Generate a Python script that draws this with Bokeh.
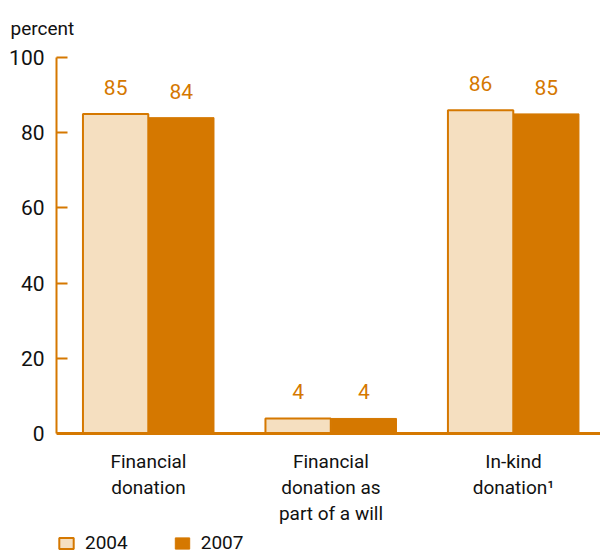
from bokeh.plotting import figure
from bokeh.models import Range1d, FixedTicker, Legend, LegendItem, ColumnDataSource, Title, Span
from bokeh.core.properties import value
from bokeh.embed import file_html
from bokeh.resources import INLINE

categories = ["Financial\ndonation", "Financial\ndonation as\npart of a will", "In-kind\ndonation\u00b9"]
series_names = ["2004", "2007"]
values_2004 = [85, 4, 86]
values_2007 = [84, 4, 85]
y_ticks = [0, 20, 40, 60, 80, 100]

ORANGE = "#D57800"
LIGHT = "#F5DFC0"
FONT = "Roboto"

p = figure(width=600, height=554, output_backend="svg", toolbar_location=None,
           x_range=Range1d(-0.504, 2.477), y_range=Range1d(-32.18, 100),
           min_border_left=56, min_border_right=0, min_border_top=57, min_border_bottom=0)
p.outline_line_color = None
p.grid.grid_line_color = None
p.xaxis.visible = False

xs = list(range(len(categories)))
dx = 0.18
bw = 0.358
src04 = ColumnDataSource(dict(x=[x - dx for x in xs], top=values_2004, lab=[str(v) for v in values_2004]))
src07 = ColumnDataSource(dict(x=[x + dx for x in xs], top=values_2007, lab=[str(v) for v in values_2007]))

r04 = p.vbar(x="x", top="top", width=bw, bottom=0, source=src04, fill_color=LIGHT,
             line_color=ORANGE, line_width=2)
r07 = p.vbar(x="x", top="top", width=bw, bottom=0, source=src07, fill_color=ORANGE,
             line_color=ORANGE, line_width=1)

for s in (src04, src07):
    p.text(x="x", y="top", text="lab", source=s, text_align="center", text_baseline="bottom",
           y_offset=-19, text_color=ORANGE, text_font=value(FONT), text_font_size="21px")

# x axis line at zero and category labels
p.add_layout(Span(location=0, dimension="width", line_color=ORANGE, line_width=3))
cat_src = ColumnDataSource(dict(x=xs, y=[0] * len(xs), lab=categories))
p.text(x="x", y="y", text="lab", source=cat_src, text_align="center", text_baseline="top",
       y_offset=16, text_color="#111111", text_font=value(FONT), text_font_size="19px",
       text_line_height=1.15)

# y axis
p.yaxis.ticker = FixedTicker(ticks=y_ticks)
p.yaxis.bounds = (0, 100)
p.yaxis.axis_line_color = ORANGE
p.yaxis.axis_line_width = 2
p.yaxis.major_tick_line_color = ORANGE
p.yaxis.major_tick_line_width = 2
p.yaxis.major_tick_in = 11
p.yaxis.major_tick_out = 0
p.yaxis.minor_tick_line_color = None
p.yaxis.major_label_text_font = FONT
p.yaxis.major_label_text_font_size = "21px"
p.yaxis.major_label_text_color = "#111111"
p.yaxis.major_label_standoff = 12

p.add_layout(Title(text="percent", align="left", offset=-46, standoff=32, vertical_align="top",
                   text_font=FONT, text_font_size="19px", text_font_style="normal",
                   text_color="#111111"), "above")

legend = Legend(items=[LegendItem(label=series_names[0], renderers=[r04]),
                       LegendItem(label=series_names[1], renderers=[r07])],
                orientation="horizontal", location=(1, 0),
                label_text_font=FONT, label_text_font_size="19px", label_text_color="#111111",
                glyph_width=18, glyph_height=14, spacing=45, padding=0, margin=0,
                border_line_color=None, background_fill_alpha=0, label_standoff=10)
p.add_layout(legend)

open("out.html", "w").write(file_html(p, INLINE))
